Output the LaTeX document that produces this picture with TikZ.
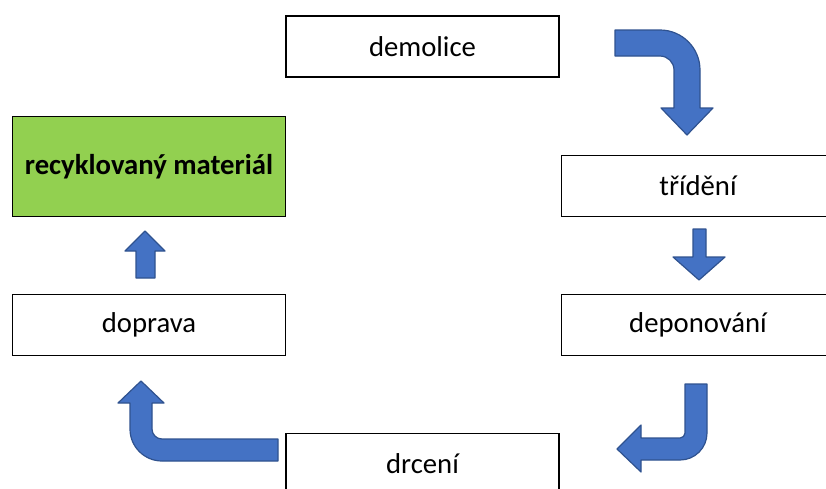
\documentclass[tikz,border=0pt]{standalone}
\usepackage{fontspec}
\setmainfont{Carlito}
\definecolor{arrowblue}{HTML}{4472C4}
\definecolor{arrowedge}{HTML}{2F528F}
\definecolor{matgreen}{HTML}{92D050}
\tikzset{
  stepbox/.style={draw=black, line width=1.6pt, minimum width=273pt, minimum height=61pt, inner sep=0pt, font=\fontsize{28.7}{34}\selectfont},
  blockarrow/.style={fill=arrowblue, draw=arrowedge, line width=1.2pt, line join=round}
}

\begin{document}
\begin{tikzpicture}[x=1pt,y=-1pt]
  %%%%% START %%%%%
  \useasboundingbox (0,0) rectangle (826,488);
  \clip (0,0) rectangle (826,488);

  \node[stepbox] (demolice) at (422.5,46.5) {demolice};
  \node[stepbox, fill=matgreen, minimum height=100pt, font=\fontsize{28.7}{34}\selectfont\bfseries] (material) at (149,166.5) {recyklovaný materiál};
  \node[stepbox] (trideni) at (698,186) {třídění};
  \node[stepbox] (deponovani) at (698,325) {deponování};
  \node[stepbox] (doprava) at (149,325) {doprava};
  \node[stepbox] (drceni) at (422.5,464) {drcení};

  % demolice -> trideni
  \draw[blockarrow] (615,30) -- (660,30) arc[start angle=270, end angle=360, radius=40]
    -- (700,108) -- (713,108) -- (687,135) -- (661,108) -- (674,108)
    -- (674,70) arc[start angle=0, end angle=-90, radius=14] -- (615,56) -- cycle;

  % trideni -> deponovani
  \draw[blockarrow] (693,229) -- (706,229) -- (706,257) -- (725,257) -- (699,280)
    -- (673,257) -- (693,257) -- cycle;

  % deponovani -> drceni
  \draw[blockarrow] (685,384) -- (707,384) -- (707,433) arc[start angle=0, end angle=90, radius=27]
    -- (641,460) -- (641,472) -- (617,449) -- (641,425) -- (641,438)
    -- (680,438) arc[start angle=90, end angle=0, radius=5] -- cycle;

  % drceni -> doprava
  \draw[blockarrow] (278,439) -- (278,461) -- (162,461) arc[start angle=90, end angle=180, radius=32]
    -- (130,403) -- (118,403) -- (141,381) -- (164,403) -- (152,403)
    -- (152,429) arc[start angle=180, end angle=90, radius=10] -- cycle;

  % doprava -> material
  \draw[blockarrow] (136,278) -- (136,251) -- (125,251) -- (145,231) -- (165,251)
    -- (155,251) -- (155,278) -- cycle;
  %%%%% END %%%%%
\end{tikzpicture}
\end{document}
